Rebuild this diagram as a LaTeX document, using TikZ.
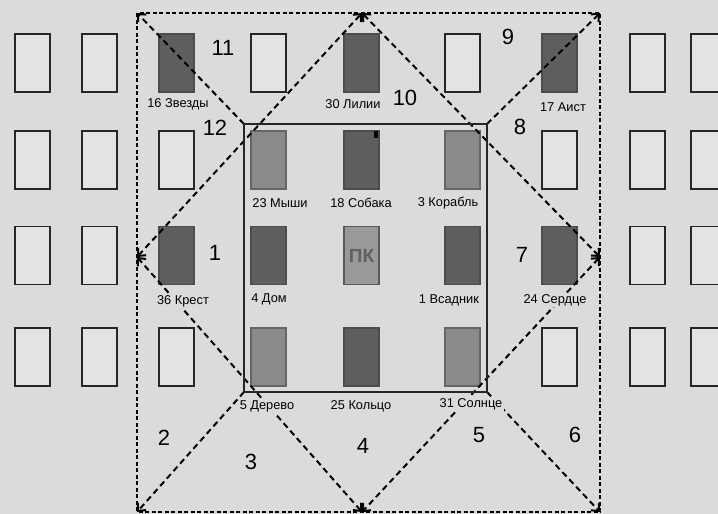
\documentclass[tikz,border=0pt]{standalone}
\usepackage{fontspec}
\setmainfont{Liberation Sans}
\usepackage{tikz}
\usetikzlibrary{arrows.meta}

\definecolor{paper}{gray}{0.86}
\definecolor{blankcol}{gray}{0.89}
\definecolor{darkcol}{gray}{0.37}
\definecolor{midcol}{gray}{0.54}
\definecolor{pccol}{gray}{0.60}

\begin{document}
\begin{tikzpicture}[x=1pt, y=-1pt,
    card/.style={rectangle, minimum width=35pt, minimum height=58pt, inner sep=0pt, line width=1.1pt},
    cardblank/.style={card, draw=black!85, fill=blankcol},
    carddark/.style={card, draw=black!70, fill=darkcol},
    cardmid/.style={card, draw=black!60, fill=midcol},
    cardpc/.style={card, draw=black!65, fill=pccol, text=black!62, font=\bfseries\fontsize{19}{20}\selectfont},
    cardlabel/.style={fill=paper, inner sep=1.5pt, font=\fontsize{12.8}{14}\selectfont},
    zone/.style={font=\fontsize{22}{24}\selectfont},
    frame/.style={line width=2pt, dash pattern=on 4pt off 2.5pt},
    ray/.style={line width=2pt, dash pattern=on 6pt off 4pt, -{Straight Barb[length=6pt,width=11pt]}},
    raytwo/.style={line width=2pt, dash pattern=on 6pt off 4pt, {Straight Barb[length=6pt,width=11pt]}-{Straight Barb[length=6pt,width=11pt]}}]

    % Paper and page size
    \useasboundingbox (0,0) rectangle (718,514);
    \clip (0,0) rectangle (718,514);
    \fill[paper] (0,0) rectangle (718,514);

    % Corners and midpoints of the outer frame, corners of the square
    \coordinate (oTL) at (137,13);
    \coordinate (oTR) at (600,13);
    \coordinate (oBL) at (137,512);
    \coordinate (oBR) at (600,512);
    \coordinate (oT) at (362,13);
    \coordinate (oB) at (362,512);
    \coordinate (oL) at (137,257);
    \coordinate (oR) at (600,257);
    \coordinate (iTL) at (244,124);
    \coordinate (iTR) at (487,124);
    \coordinate (iBL) at (244,392);
    \coordinate (iBR) at (487,392);

    % Blank cards of the table
    \foreach \cx/\ci in {32.5/1, 99.5/2, 647.5/8, 708.5/9}
        \foreach \cy/\cj in {63/1, 160/2, 255.5/3, 357/4}
            \node[cardblank] (blank-\ci-\cj) at (\cx,\cy) {};
    \node[cardblank] (blank-3-2) at (176.5,160) {};
    \node[cardblank] (blank-3-4) at (176.5,357) {};
    \node[cardblank] (blank-4-1) at (268.5,63) {};
    \node[cardblank] (blank-6-1) at (462.5,63) {};
    \node[cardblank] (blank-7-2) at (559.5,160) {};
    \node[cardblank] (blank-7-4) at (559.5,357) {};

    % Cards that were laid out
    \node[carddark] (stars) at (176.5,63) {};
    \node[carddark] (lilies) at (361.5,63) {};
    \node[carddark] (stork) at (559.5,63) {};
    \node[cardmid] (mice) at (268.5,160) {};
    \node[carddark] (dog) at (361.5,160) {};
    \node[cardmid] (ship) at (462.5,160) {};
    \node[carddark] (cross) at (176.5,255.5) {};
    \node[carddark] (house) at (268.5,255.5) {};
    \node[cardpc] (pc) at (361.5,255.5) {ПК};
    \node[carddark] (rider) at (462.5,255.5) {};
    \node[carddark] (heart) at (559.5,255.5) {};
    \node[cardmid] (tree) at (268.5,357) {};
    \node[carddark] (ring) at (361.5,357) {};
    \node[cardmid] (sun) at (462.5,357) {};
    \fill[black] ([shift={(-6,1)}]dog.north east) rectangle +(4,7);

    % Outer frame and the square
    \draw[frame] (oTL) rectangle (oBR);
    \draw[ray] (iTL) -- (oTL);
    \draw[ray] (iTR) -- (oTR);
    \draw[ray] (iBL) -- (oBL);
    \draw[ray] (iBR) -- (oBR);
    \draw[raytwo] (oL) -- (oT);
    \draw[raytwo] (oT) -- (oR);
    \draw[raytwo] (oR) -- (oB);
    \draw[raytwo] (oB) -- (oL);
    \draw[line width=1.3pt, black!85] (iTL) rectangle (iBR);

    % Card names
    \node[cardlabel] (stars-l) at (178,104) {16 Звезды};
    \node[cardlabel] (lilies-l) at (353,104) {30 Лилии};
    \node[cardlabel] (stork-l) at (563,107) {17 Аист};
    \node[cardlabel] (mice-l) at (280,203) {23 Мыши};
    \node[cardlabel] (dog-l) at (361,203) {18 Собака};
    \node[cardlabel] (ship-l) at (448,203) {3 Корабль};
    \node[cardlabel] (cross-l) at (183,301) {36 Крест};
    \node[cardlabel] (house-l) at (269,299) {4 Дом};
    \node[cardlabel] (rider-l) at (449,300) {1 Всадник};
    \node[cardlabel] (heart-l) at (555,300) {24 Сердце};
    \node[cardlabel] (tree-l) at (267,406) {5 Дерево};
    \node[cardlabel] (ring-l) at (361,406) {25 Кольцо};
    \node[cardlabel] (sun-l) at (471,404) {31 Солнце};

    % Numbers of the zones
    \node[zone] (z1) at (215,253) {1};
    \node[zone] (z2) at (164,438) {2};
    \node[zone] (z3) at (251,462) {3};
    \node[zone] (z4) at (363,446) {4};
    \node[zone] (z5) at (479,435) {5};
    \node[zone] (z6) at (575,435) {6};
    \node[zone] (z7) at (522,255) {7};
    \node[zone] (z8) at (520,127) {8};
    \node[zone] (z9) at (508,37) {9};
    \node[zone] (z10) at (405,98) {10};
    \node[zone] (z11) at (223,48) {11};
    \node[zone] (z12) at (215,128) {12};
\end{tikzpicture}
\end{document}
